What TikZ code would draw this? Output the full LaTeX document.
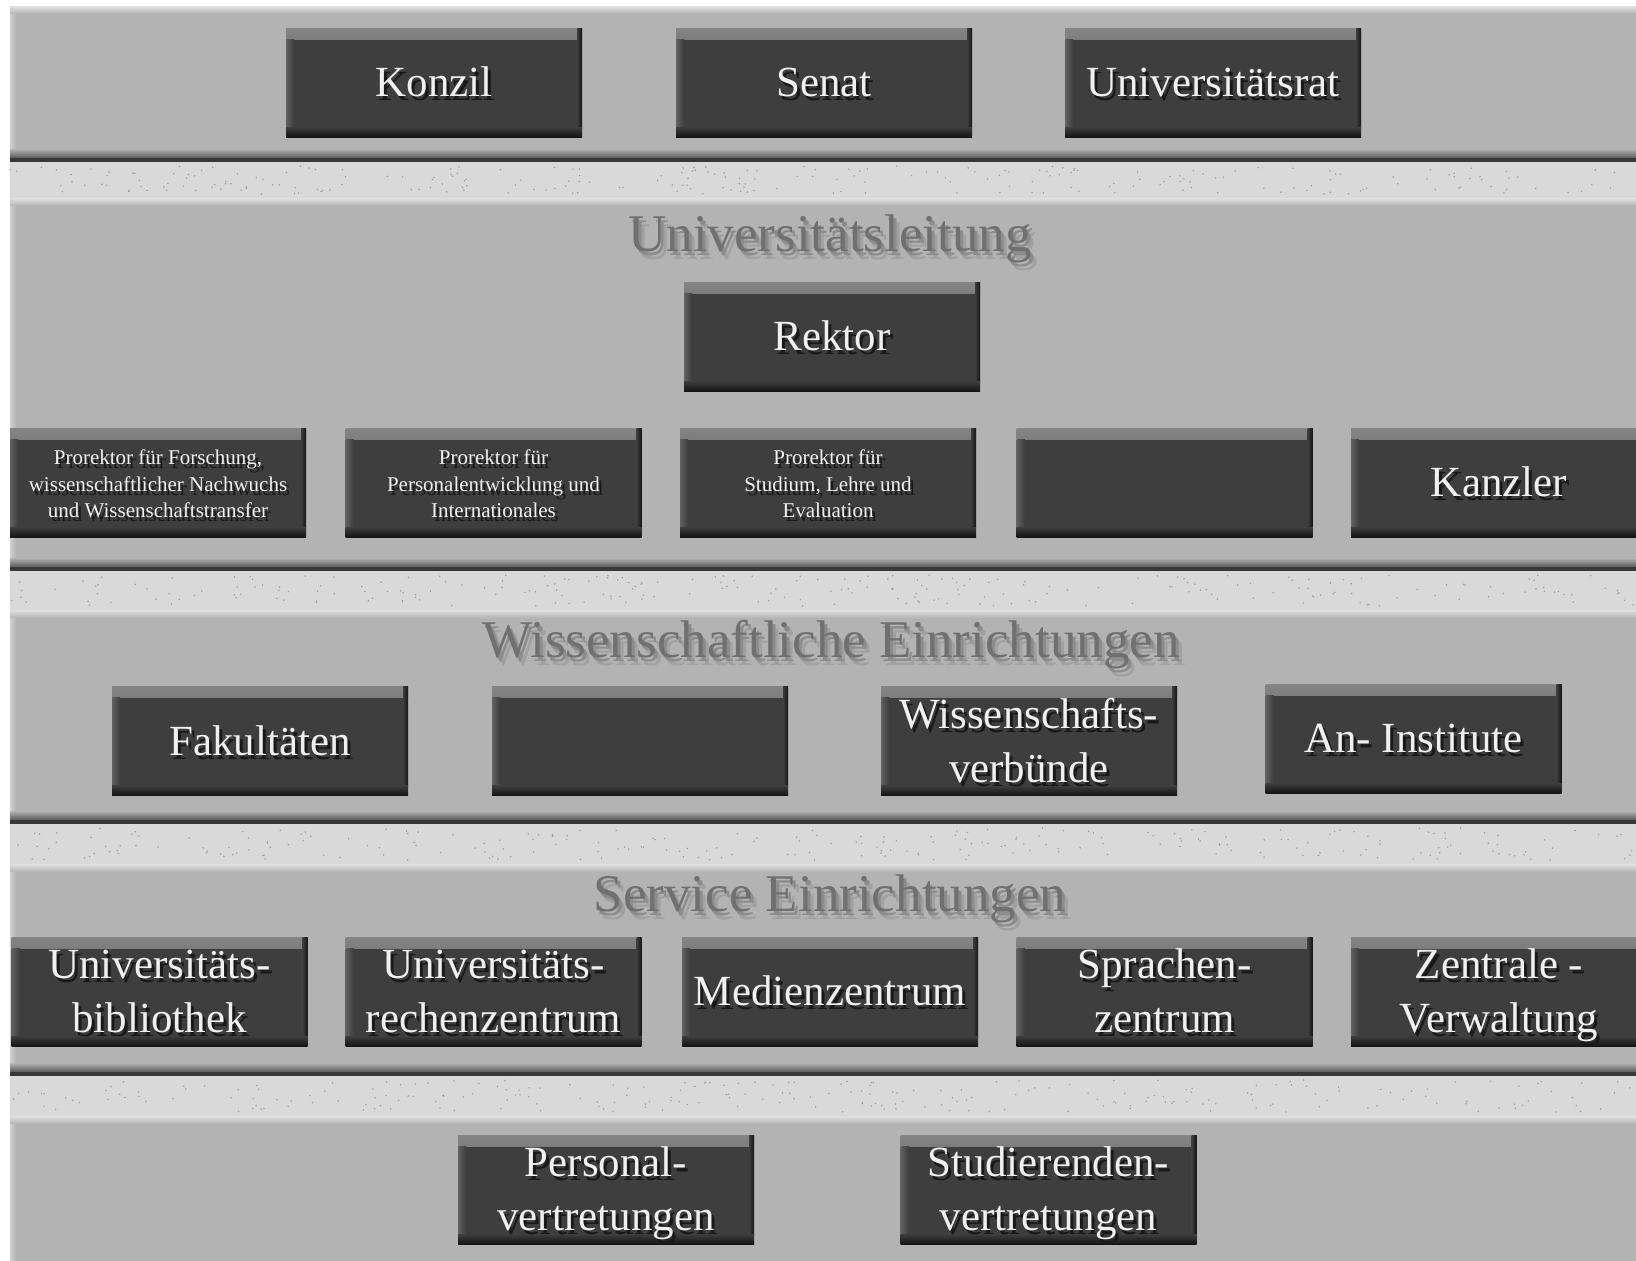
\documentclass[tikz,border=0pt]{standalone}
\usepackage{fontspec}
\setmainfont{Liberation Serif}
\definecolor{panelgray}{HTML}{B3B3B3}
\definecolor{stripgray}{HTML}{D9D9D9}
\definecolor{boxgray}{HTML}{3E3E3E}
\newcommand\bigf{\fontsize{43}{54}\selectfont}
\newcommand\smallf{\fontsize{21}{26.6}\selectfont}
\newcommand\titlef{\fontsize{53}{62}\selectfont}
\newcommand\shtext[1]{%
  \rlap{\hspace{3pt}\raisebox{-4pt}[0pt][0pt]{\textcolor{black!90}{\begin{tabular}{@{}c@{}}#1\end{tabular}}}}%
  \begin{tabular}{@{}c@{}}#1\end{tabular}}
\newcommand\shtitle[1]{%
  \rlap{\hspace{6pt}\raisebox{-8pt}[0pt][0pt]{\textcolor{black!37}{#1}}}%
  \rlap{\hspace{3pt}\raisebox{-4pt}[0pt][0pt]{\textcolor{black!45}{#1}}}%
  #1}
\tikzset{
  orgbox/.style={minimum width=296pt, minimum height=109pt, inner sep=0pt, fill=boxgray,
    path picture={
      \fill[top color=black!48, bottom color=boxgray] (path picture bounding box.north west) rectangle ([yshift=-11pt]path picture bounding box.north east);
      \fill[left color=black!62, right color=boxgray] ([yshift=-11pt]path picture bounding box.north west) rectangle ([xshift=8pt,yshift=9pt]path picture bounding box.south west);
      \fill[left color=boxgray, right color=black!92] ([xshift=-5pt]path picture bounding box.north east) rectangle ([yshift=9pt]path picture bounding box.south east);
      \fill[top color=boxgray, bottom color=black!92] ([yshift=10pt]path picture bounding box.south west) rectangle (path picture bounding box.south east);
    }},
  lbl/.style={text=white!94!black, inner sep=0pt},
  ttl/.style={text=black!56, inner sep=0pt, font=\titlef}
}
\newcommand\obox[5]{%
  \node[orgbox] (#1) at (#2,#3) {};
  \node[lbl, font=#4] (#1-t) at ([yshift=-3.5pt]#1.center) {\shtext{#5}};
}
\newcommand\opanel[2]{%
  \fill[panelgray] (10,#1) rectangle (1636,#2);
  \fill[top color=black!12, bottom color=panelgray] (10,#1) rectangle (1636,#1+8);
  \fill[left color=black!18, right color=panelgray] (10,#1+8) rectangle (16,#2);
}
\newcommand\osep[2]{%
  \fill[top color=panelgray, bottom color=black!65] (10,#1-9) rectangle (1636,#1);
  \fill[black!78] (10,#1) rectangle (1636,#1+4);
  \fill[stripgray] (10,#1+4) rectangle (1636,#2);
}
\begin{document}
\begin{tikzpicture}[x=1pt,y=-1pt]
\useasboundingbox (0,0) rectangle (1636,1261);
\clip (0,0) rectangle (1636,1261);
\fill[white] (0,0) rectangle (1636,1261);
% panels
\opanel{6}{158}
\opanel{198}{567}
\opanel{610}{820}
\opanel{864}{1072}
\opanel{1116}{1261}
% separators
\osep{158}{198}
\osep{567}{610}
\osep{820}{864}
\osep{1072}{1116}
% speckles
\pgfmathsetseed{7}
\foreach \s/\e in {162/198, 571/610, 824/864, 1076/1116}{
  \foreach \i in {1,...,240}{
    \pgfmathsetmacro\px{10+1626*rnd}
    \pgfmathsetmacro\py{\s+4+(\e-\s-8)*rnd}
    \fill[black!55, opacity=.55] (\px,\py) circle (0.9pt);
  }
}
% row 1
\obox{konzil}{434}{82.5}{\bigf}{Konzil}
\obox{senat}{824}{82.5}{\bigf}{Senat}
\obox{urat}{1213}{82.5}{\bigf}{Universitätsrat}
% Universitaetsleitung
\node[ttl] (tleitung) at (830,239) {\shtitle{Universitätsleitung}};
\obox{rektor}{832}{336.5}{\bigf}{Rektor}
\obox{pr1}{158}{482.5}{\smallf}{Prorektor für Forschung,\\wissenschaftlicher Nachwuchs\\und Wissenschaftstransfer}
\obox{pr2}{493.5}{482.5}{\smallf}{Prorektor für\\Personalentwicklung und\\Internationales}
\obox{pr3}{828}{482.5}{\smallf}{Prorektor für\\Studium, Lehre und\\Evaluation}
\node[orgbox] (pr4) at (1164.5,482.5) {};
\obox{kanzler}{1499}{482.5}{\bigf}{Kanzler}
% Wissenschaftliche Einrichtungen
\node[ttl] (twiss) at (831,645) {\shtitle{Wissenschaftliche Einrichtungen}};
\obox{fak}{260}{741}{\bigf}{Fakultäten}
\node[orgbox] (we2) at (640,741) {};
\obox{wverb}{1029}{741}{\bigf}{Wissenschafts-\\verbünde}
\obox{aninst}{1413.5}{738.5}{\bigf}{An- Institute}
% Service Einrichtungen
\node[ttl] (tserv) at (830,899) {\shtitle{Service Einrichtungen}};
\obox{ubib}{159.5}{991.5}{\bigf}{Universitäts-\\bibliothek}
\obox{urz}{493.5}{991.5}{\bigf}{Universitäts-\\rechenzentrum}
\obox{mz}{830}{991.5}{\bigf}{Medienzentrum}
\obox{sz}{1164.5}{991.5}{\bigf}{Sprachen-\\zentrum}
\obox{zv}{1499}{991.5}{\bigf}{Zentrale -\\Verwaltung}
% Vertretungen
\obox{pv}{606}{1189.5}{\bigf}{Personal-\\vertretungen}
\obox{sv}{1048.5}{1189.5}{\bigf}{Studierenden-\\vertretungen}
\end{tikzpicture}
\end{document}
